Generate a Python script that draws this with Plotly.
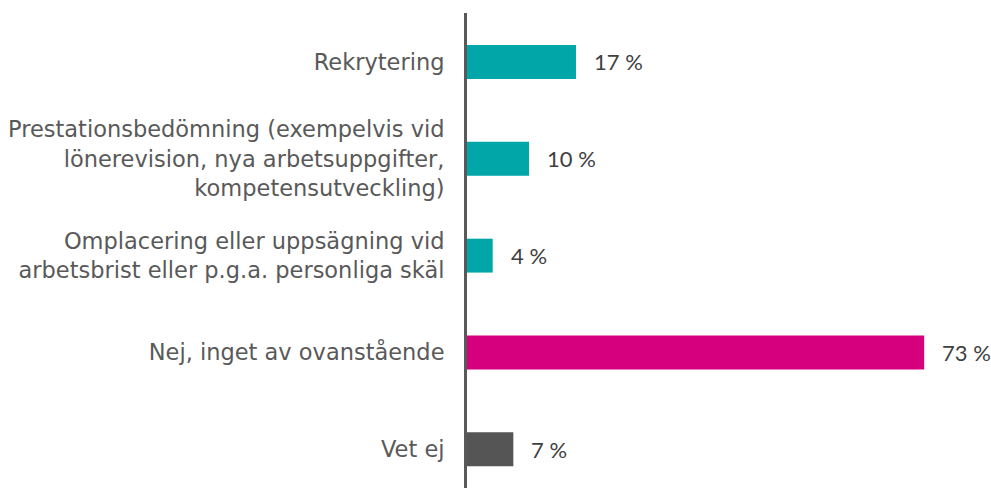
import plotly.graph_objects as go

categories = [
    "Rekrytering",
    "Prestationsbedömning (exempelvis vid<br>lönerevision, nya arbetsuppgifter,<br>kompetensutveckling)",
    "Omplacering eller uppsägning vid<br>arbetsbrist eller p.g.a. personliga skäl",
    "Nej, inget av ovanstående",
    "Vet ej",
]
values = [17.4, 9.9, 4.1, 73.0, 7.4]
value_labels = ["17 %", "10 %", "4 %", "73 %", "7 %"]
colors = ["#00A6A8", "#00A6A8", "#00A6A8", "#D6007E", "#555555"]

fig = go.Figure(
    go.Bar(
        x=values,
        y=categories,
        orientation="h",
        marker=dict(color=colors, line=dict(width=0)),
        width=0.35,
        hoverinfo="skip",
    )
)

for v, c, t in zip(values, categories, value_labels):
    fig.add_annotation(
        x=v, y=c, text=t, showarrow=False, xanchor="left", yanchor="middle",
        xshift=16, font=dict(family="Lato, Open Sans, sans-serif", size=22, color="#404040"),
    )

fig.update_layout(
    width=991,
    height=488,
    margin=dict(l=467, r=23, t=13, b=0),
    paper_bgcolor="white",
    plot_bgcolor="white",
    showlegend=False,
    xaxis=dict(range=[0, 80], visible=False),
    yaxis=dict(
        type="category",
        categoryorder="array",
        categoryarray=categories,
        range=[4.40, -0.506],
        showline=True,
        linecolor="#595959",
        linewidth=3,
        showgrid=False,
        ticks="",
        ticklabelstandoff=15,
        tickfont=dict(family="DejaVu Sans, Verdana, sans-serif", size=22.5, color="#595959"),
    ),
)

fig.write_html("out.html")
